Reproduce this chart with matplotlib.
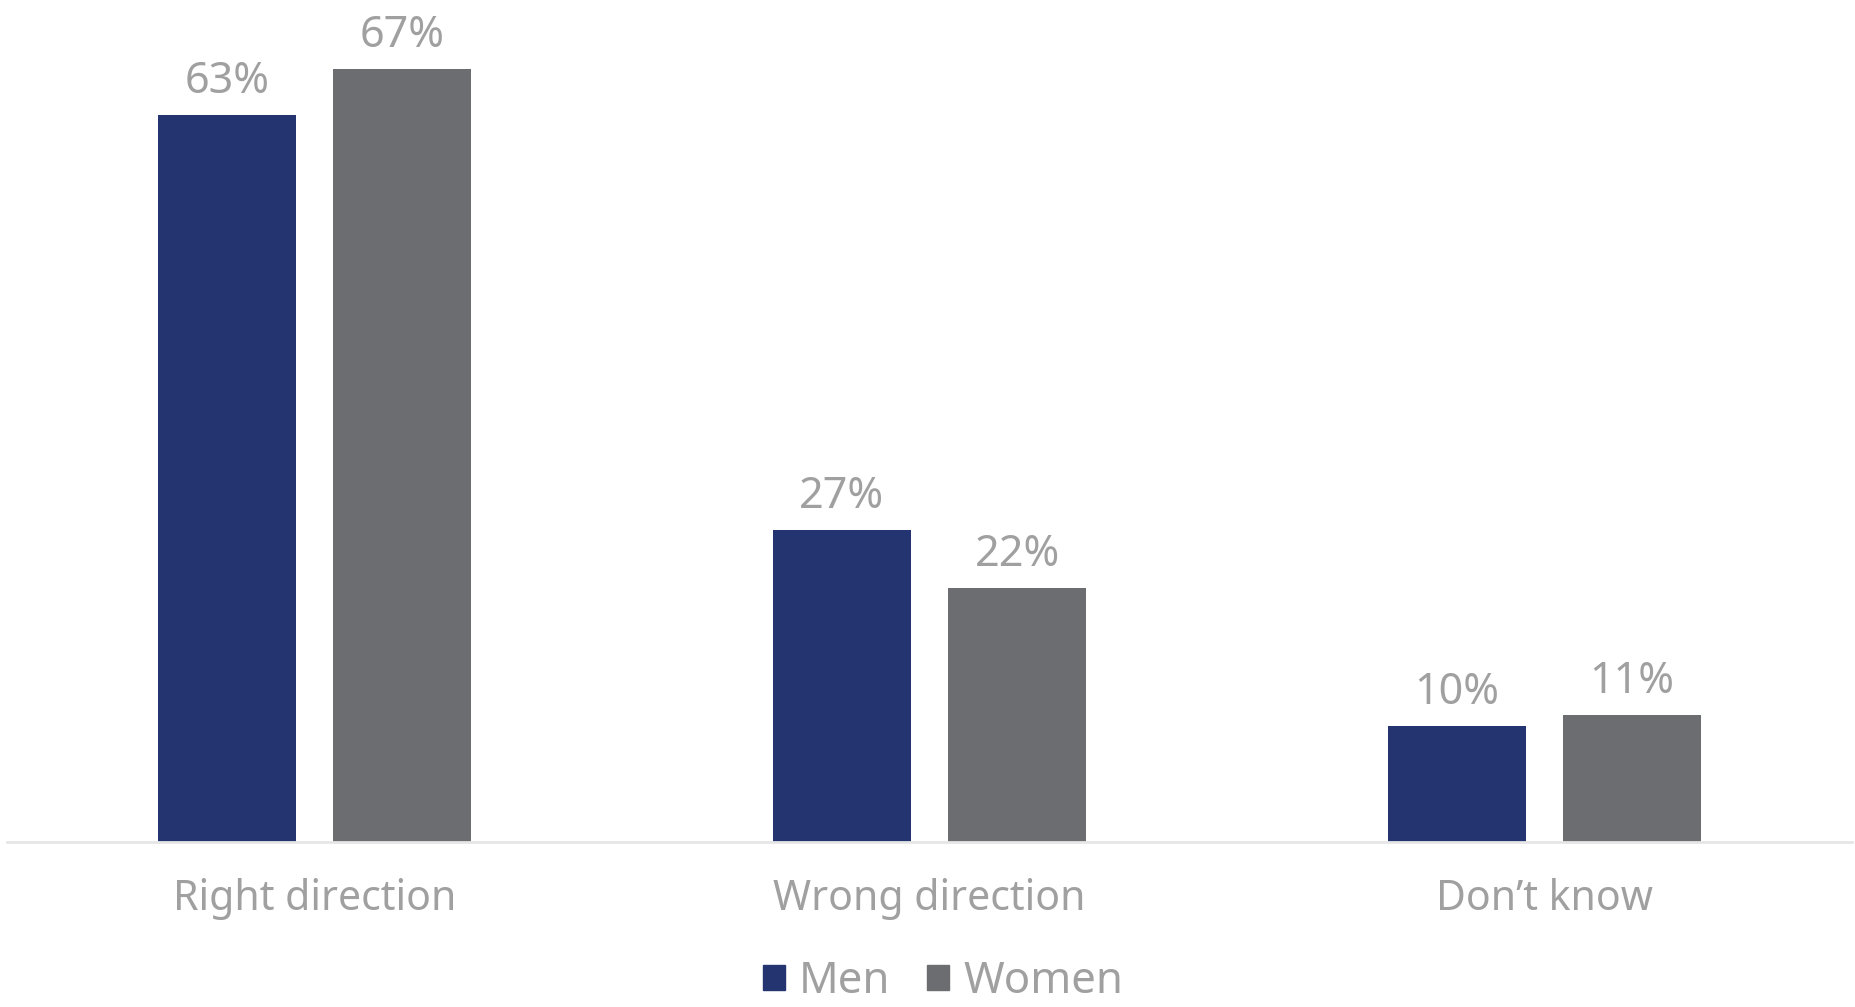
import matplotlib.pyplot as plt
import numpy as np
from matplotlib.patches import Patch

categories = ["Right direction", "Wrong direction", "Don\u2019t know"]
men = [63, 27, 10]
women = [67, 22, 11]
series_names = ["Men", "Women"]

NAVY = "#243470"
GREY = "#6c6d71"
TEXT = "#a0a0a0"

plt.rcParams['font.family'] = ['Noto Sans', 'DejaVu Sans']

fig = plt.figure(figsize=(18.56, 10.07), dpi=100)
# axes placed to line up with the baseline and the bar extents
ax = fig.add_axes([7 / 1856, 1 - 841.6 / 1007, 1845 / 1856, 841.6 / 1007])

x = np.arange(len(categories))
w = 0.2234
off = 0.1424
b1 = ax.bar(x - off, men, width=w, color=NAVY, label=series_names[0])
b2 = ax.bar(x + off, women, width=w, color=GREY, label=series_names[1])

for bars, vals in ((b1, men), (b2, women)):
    for rect, v in zip(bars, vals):
        ax.annotate(f"{v}%", (rect.get_x() + rect.get_width() / 2, v),
                    xytext=(0, 8), textcoords="offset points",
                    ha="center", va="bottom", fontsize=31, color=TEXT)

ax.set_xlim(-0.5, 2.5)
ax.set_ylim(0, 73.0)
ax.set_xticks(x)
ax.set_xticklabels(categories, fontsize=29.5, color=TEXT)
ax.tick_params(axis="x", length=0, pad=26)
ax.set_yticks([])
for s in ("top", "right", "left"):
    ax.spines[s].set_visible(False)
ax.spines["bottom"].set_color("#e6e6e6")
ax.spines["bottom"].set_linewidth(2)

handles = [Patch(color=NAVY), Patch(color=GREY)]
leg = fig.legend(handles, series_names, loc="center",
                 bbox_to_anchor=(0.5 + 15 / 1856, 1 - 982 / 1007),
                 ncol=2, frameon=False, fontsize=31.5, handlelength=0.5, handleheight=0.5,
                 handletextpad=0.32, columnspacing=0.85, labelcolor=TEXT,
                 borderpad=0.1)

fig.savefig("out.png", dpi=100)
